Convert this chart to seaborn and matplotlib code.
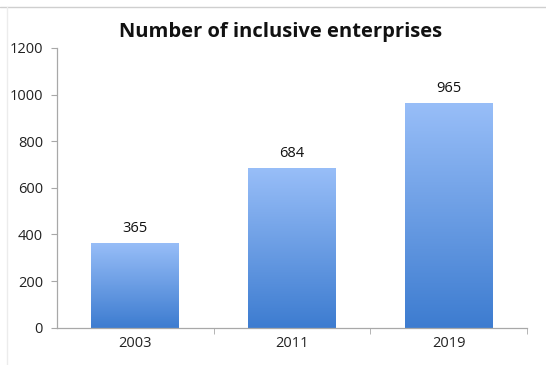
import numpy as np
import pandas as pd
import matplotlib
matplotlib.use("Agg")
import matplotlib.pyplot as plt
import seaborn as sns
from matplotlib.colors import LinearSegmentedColormap
from matplotlib.lines import Line2D

years = ["2003", "2011", "2019"]
counts = [365, 684, 965]
title = "Number of inclusive enterprises"
yticks = [0, 200, 400, 600, 800, 1000, 1200]

sns.set_style("white")
plt.rcParams['font.family'] = ['Open Sans', 'DejaVu Sans']

df = pd.DataFrame({"year": years, "count": counts})

fig = plt.figure(figsize=(5.46, 3.65), dpi=100)
ax = fig.add_axes([0.1044, 0.1022, 0.8612, 0.7663])

sns.barplot(data=df, x="year", y="count", ax=ax, width=0.56, color="#6a9de6",
            edgecolor="none", saturation=1)

cmap = LinearSegmentedColormap.from_list("g", ["#3d7cd0", "#98bef8"])
grad = np.linspace(0, 1, 256).reshape(-1, 1)
for p in ax.patches:
    x0, y0 = p.get_x(), p.get_y()
    w, h = p.get_width(), p.get_height()
    im = ax.imshow(grad, cmap=cmap, aspect="auto", origin="lower",
                   extent=[x0, x0 + w, y0, y0 + h], zorder=p.get_zorder() + 0.1)
    im.set_clip_path(p)
    ax.text(x0 + w / 2, y0 + h + 30, f"{int(h)}", ha="center", va="bottom",
            fontsize=10.5, color="#111111")

ax.set_xlim(-0.5, 2.5)
ax.set_ylim(0, 1200)
ax.set_yticks(yticks)
ax.set_xlabel("")
ax.set_ylabel("")

for s in ["top", "right"]:
    ax.spines[s].set_visible(False)
for s in ["left", "bottom"]:
    ax.spines[s].set_color("#a8a8a8")
    ax.spines[s].set_linewidth(0.9)

ax.tick_params(axis="y", direction="out", length=4, color="#a8a8a8",
               labelsize=10.5, labelcolor="#222222", pad=6, left=True)
ax.tick_params(axis="x", which="major", length=0, labelsize=10.5,
               labelcolor="#222222", pad=6, bottom=True)
ax.set_xticks([0.5, 1.5, 2.5], minor=True)
ax.tick_params(axis="x", which="minor", direction="out", length=4,
               color="#a8a8a8", bottom=True)

fig.text(0.513, 0.913, title, ha="center", va="center", fontsize=14.5,
         fontweight="bold", color="#111111")

fig.add_artist(Line2D([0, 1], [1 - 7 / 365] * 2, transform=fig.transFigure,
                      color="#cfcfcf", lw=1))
fig.add_artist(Line2D([7 / 546] * 2, [0, 1 - 7 / 365], transform=fig.transFigure,
                      color="#ececec", lw=1))

fig.savefig("out.png", dpi=100)
